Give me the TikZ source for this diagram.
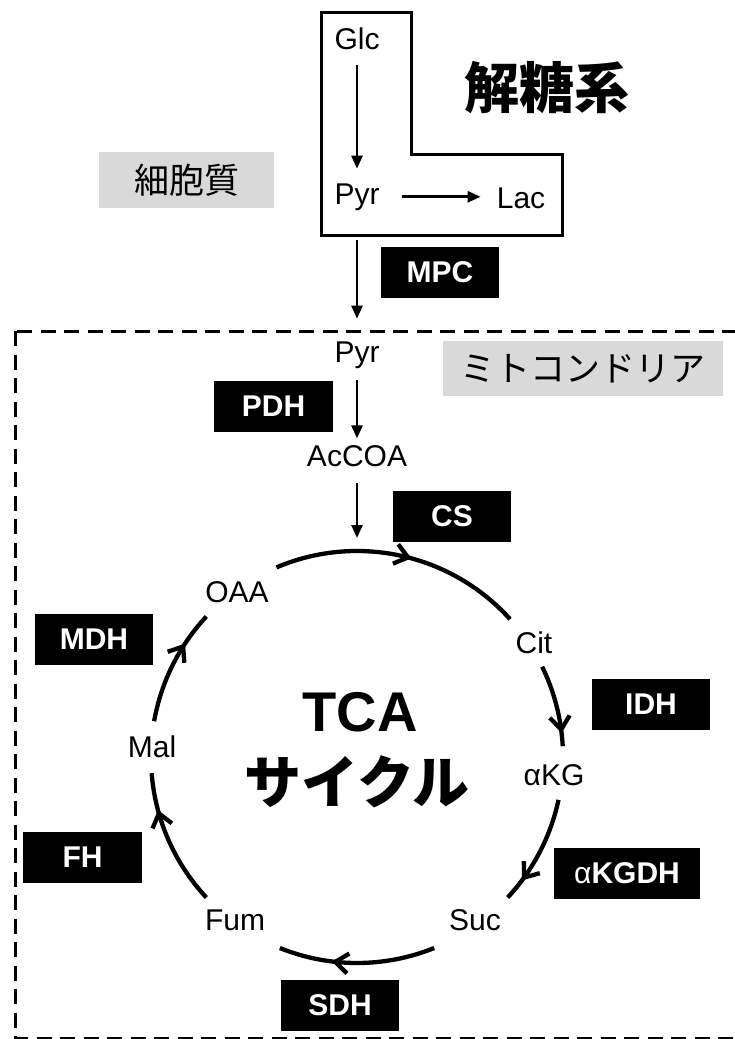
\documentclass[tikz,border=0pt]{standalone}
\usepackage{fontspec}
\setmainfont{Liberation Sans}
\newfontfamily\jp{Noto Sans CJK JP}
\usetikzlibrary{arrows.meta,calc,decorations.markings}

\begin{document}
\begin{tikzpicture}[x=1pt,y=1pt,
  metab/.style={font=\fontsize{30}{36}\selectfont, inner sep=0pt, anchor=base},
  enz/.style={fill=black, text=white, font=\bfseries\fontsize{30}{36}\selectfont,
    minimum width=118pt, minimum height=51pt, inner sep=0pt},
  region/.style={fill=black!15, inner sep=0pt, font=\jp\fontsize{35}{40}\selectfont},
  flow/.style={line width=2.6pt, -{Triangle[length=13pt,width=11pt]}},
  cyc/.style={line width=4.3pt,
    decoration={markings, mark=at position #1 with {\arrow{Straight Barb[length=13pt,width=20pt]}}},
    postaction={decorate}},
  membrane/.style={line width=3pt, dash pattern=on 15pt off 8.5pt},
]
\useasboundingbox (0,0) rectangle (735,-1039);
\fill[white] (0,0) rectangle (735,-1039);
\clip (0,0) rectangle (735,-1039);

% mitochondrial membrane
\draw[membrane] (15,-331) rectangle (750,-1038);

% glycolysis compartment
\draw[line width=3pt, line join=miter] (321,-12) -- (411,-12) -- (411,-154) -- (562,-154)
  -- (562,-235) -- (321,-235) -- cycle;
\coordinate (lbot) at (357,-235);

% compartment labels
\node[region, minimum width=175pt, minimum height=56pt] (cyto) at (186.5,-180) {細胞質};
\node[region, minimum width=280pt, minimum height=55pt] (mito) at (583,-368.5) {ミトコンドリア};
\node[font=\jp\bfseries\fontsize{55}{60}\selectfont, inner sep=0pt] (glyco) at (547,-88) {解糖系};

% metabolites
\node[metab] (glc) at (357,-49) {Glc};
\node[metab] (pyrA) at (357,-204) {Pyr};
\node[metab] (lac) at (521,-208) {Lac};
\node[metab] (pyrB) at (357,-362) {Pyr};
\node[metab] (acoa) at (357,-466) {AcCOA};
\node[metab] (oaa) at (237,-602) {OAA};
\node[metab] (cit) at (534,-653) {Cit};
\node[metab] (akg) at (554,-785) {αKG};
\node[metab] (suc) at (475,-930) {Suc};
\node[metab] (fum) at (235,-930) {Fum};
\node[metab] (mal) at (152,-757) {Mal};

% cycle title
\node[font=\bfseries\fontsize{56}{60}\selectfont, inner sep=0pt, anchor=base] (tca) at (360,-731) {TCA};
\node[font=\jp\bfseries\fontsize{57}{60}\selectfont, inner sep=0pt] (cyclename) at (357,-782) {サイクル};

% enzymes
\node[enz] (mpc) at (440,-272.5) {MPC};
\node[enz, minimum width=119pt] (pdh) at (273.5,-406.5) {PDH};
\node[enz] (cs) at (452,-516.5) {CS};
\node[enz] (mdh) at (94,-639) {MDH};
\node[enz] (idh) at (651,-704) {IDH};
\node[enz, minimum width=119pt] (fh) at (82.5,-857) {FH};
\node[enz, minimum width=146pt] (akgdh) at (627,-873) {{\mdseries α}KGDH};
\node[enz] (sdh) at (340,-1005) {SDH};

% linear steps
\draw[flow, shorten <=16pt, shorten >=14.5pt] (glc.south) -- (pyrA.north);
\draw[flow, shorten <=22pt, shorten >=16pt] (pyrA.east) -- (pyrA.east -| lac.west);
\draw[flow, shorten <=5pt, shorten >=22.5pt] (lbot) -- (pyrB.north);
\draw[flow, shorten <=12pt, shorten >=6.5pt] (pyrB.south) -- (acoa.north);

% TCA cycle
\coordinate (c) at (357,-757);
\coordinate (ctop) at ($(c)+(90:206)$);
\draw[flow, shorten <=16pt, shorten >=13pt] (acoa.south) -- (ctop);
\draw[cyc=0.54] ($(c)+(113:206)$) arc[start angle=113, end angle=42, radius=206];
\draw[cyc=0.84] ($(c)+(26:206)$) arc[start angle=26, end angle=3, radius=206];
\draw[cyc=0.8] ($(c)+(-12:206)$) arc[start angle=-12, end angle=-43, radius=206];
\draw[cyc=0.66] ($(c)+(-68:206)$) arc[start angle=-68, end angle=-112, radius=206];
\draw[cyc=0.73] ($(c)+(223:206)$) arc[start angle=223, end angle=184.5, radius=206];
\draw[cyc=0.71] ($(c)+(170:206)$) arc[start angle=170, end angle=137, radius=206];
\end{tikzpicture}
\end{document}
